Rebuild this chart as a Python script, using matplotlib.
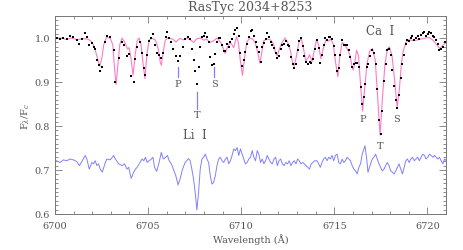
import matplotlib
matplotlib.use('Agg')
import matplotlib.pyplot as plt
from matplotlib.ticker import MultipleLocator

plt.rcParams['font.family'] = 'DejaVu Serif'
plt.rcParams['mathtext.fontset'] = 'dejavuserif'

# synthetic (model) spectrum
model_wave = [6700.0, 6700.3, 6700.6, 6700.9, 6701.2, 6701.5, 6701.8, 6702.0, 6702.15, 6702.3,
              6702.41, 6702.52, 6702.62, 6702.75, 6702.95, 6703.1, 6703.2, 6703.28, 6703.36, 6703.48,
              6703.6, 6703.75, 6703.9, 6703.98, 6704.08, 6704.19, 6704.3, 6704.42, 6704.52, 6704.62,
              6704.72, 6704.83, 6704.93, 6705.05, 6705.2, 6705.4, 6705.55, 6705.65, 6705.71, 6705.8,
              6705.92, 6706.05, 6706.3, 6706.5, 6706.7, 6706.9, 6707.05, 6707.3, 6707.45, 6707.6,
              6707.8, 6708.0, 6708.15, 6708.3, 6708.5, 6708.7, 6708.9, 6709.05, 6709.14, 6709.25,
              6709.4, 6709.5, 6709.6, 6709.75, 6709.85, 6709.95, 6710.07, 6710.18, 6710.3, 6710.45,
              6710.6, 6710.75, 6710.9, 6711.0, 6711.1, 6711.2, 6711.4, 6711.6, 6711.75, 6711.85,
              6711.94, 6712.05, 6712.2, 6712.35, 6712.5, 6712.65, 6712.75, 6712.84, 6712.95, 6713.1,
              6713.22, 6713.35, 6713.47, 6713.6, 6713.68, 6713.8, 6713.92, 6714.05, 6714.15, 6714.28,
              6714.4, 6714.55, 6714.7, 6714.82, 6714.95, 6715.05, 6715.19, 6715.3, 6715.42, 6715.55,
              6715.7, 6715.85, 6715.95, 6716.02, 6716.1, 6716.2, 6716.3, 6716.4, 6716.52, 6716.62,
              6716.75, 6716.9, 6717.05, 6717.2, 6717.32, 6717.46, 6717.58, 6717.72, 6717.85, 6717.96,
              6718.1, 6718.25, 6718.38, 6718.5, 6718.6, 6718.7, 6718.85, 6719.0, 6719.3, 6719.6,
              6719.9, 6720.1, 6720.3, 6720.5, 6720.66, 6720.8, 6721.0]
model_flux = [0.998, 1.0, 0.997, 1.0, 0.996, 0.999, 0.997, 0.99, 0.975, 0.95,
              0.936, 0.955, 0.985, 1.0, 1.001, 0.985, 0.93, 0.894, 0.93, 0.985,
              1.0, 0.99, 0.975, 0.978, 0.955, 0.915, 0.96, 0.995, 1.0, 0.985,
              0.945, 0.908, 0.96, 0.995, 1.0, 0.995, 0.975, 0.945, 0.938, 0.965,
              0.995, 1.0, 0.998, 0.991, 0.999, 0.996, 1.0, 0.995, 0.99, 0.998,
              1.0, 0.995, 0.998, 0.99, 0.993, 1.0, 0.99, 0.975, 0.965, 0.978,
              0.99, 0.985, 0.978, 1.003, 0.99, 0.95, 0.915, 0.955, 0.99, 1.0,
              0.998, 0.99, 0.965, 0.943, 0.965, 0.993, 0.998, 0.995, 0.985, 0.965,
              0.96, 0.975, 0.99, 1.0, 0.99, 0.97, 0.945, 0.936, 0.955, 0.99,
              1.0, 0.975, 0.948, 0.955, 0.962, 0.946, 0.97, 0.997, 0.985, 0.953,
              0.975, 0.995, 0.993, 0.998, 0.985, 0.95, 0.912, 0.96, 0.99, 0.985,
              0.975, 0.96, 0.935, 0.927, 0.945, 0.972, 0.96, 0.9, 0.834, 0.88,
              0.94, 0.97, 0.976, 0.95, 0.87, 0.779, 0.86, 0.94, 0.975, 0.98,
              0.96, 0.9, 0.843, 0.885, 0.94, 0.97, 0.99, 0.996, 0.994, 0.997,
              1.0, 1.001, 0.995, 0.985, 0.976, 0.982, 0.99]

# observed spectrum sampling
obs_wave = [6699.91, 6700.09, 6700.27, 6700.45, 6700.63, 6700.81, 6700.99, 6701.17, 6701.31, 6701.44,
            6701.62, 6701.71, 6701.84, 6701.98, 6702.07, 6702.16, 6702.25, 6702.34, 6702.43, 6702.54,
            6702.70, 6702.79, 6702.97, 6703.15, 6703.24, 6703.42, 6703.60, 6703.73, 6703.87, 6703.96,
            6704.09, 6704.23, 6704.32, 6704.41, 6704.56, 6704.68, 6704.77, 6704.86, 6704.95, 6705.04,
            6705.13, 6705.26, 6705.35, 6705.46, 6705.59, 6705.71, 6705.82, 6705.95, 6706.04, 6706.13,
            6706.25, 6706.36, 6706.49, 6706.61, 6706.72, 6706.85, 6706.99,
            6707.17, 6707.26, 6707.35, 6707.44, 6707.53, 6707.62, 6707.71, 6707.80, 6707.89, 6707.98,
            6708.07, 6708.16, 6708.25, 6708.34, 6708.43, 6708.52, 6708.61, 6708.70, 6708.79, 6708.88,
            6708.97, 6709.06, 6709.15, 6709.24, 6709.33, 6709.42, 6709.51, 6709.60, 6709.69, 6709.78,
            6709.87, 6709.96, 6710.05, 6710.14, 6710.23, 6710.32, 6710.41, 6710.50, 6710.59, 6710.68,
            6710.77, 6710.86, 6710.95, 6711.04, 6711.13, 6711.22, 6711.31, 6711.40, 6711.49, 6711.58,
            6711.67, 6711.76, 6711.85, 6711.94, 6712.03, 6712.12, 6712.21, 6712.30, 6712.40, 6712.49,
            6712.58, 6712.67, 6712.76, 6712.85, 6712.94, 6713.03, 6713.12, 6713.21, 6713.30, 6713.39,
            6713.48, 6713.58, 6713.67, 6713.76, 6713.85, 6713.94,
            6714.07, 6714.16, 6714.25, 6714.34, 6714.43, 6714.52, 6714.61, 6714.70, 6714.79, 6714.88,
            6714.97, 6715.06, 6715.15, 6715.24, 6715.33, 6715.42, 6715.51, 6715.60, 6715.69, 6715.78,
            6715.87, 6715.96, 6716.05, 6716.14, 6716.23, 6716.32, 6716.41, 6716.50, 6716.59, 6716.65,
            6716.74, 6716.81, 6716.92, 6717.04, 6717.13, 6717.22, 6717.31, 6717.40, 6717.49, 6717.58,
            6717.67, 6717.76, 6717.85, 6717.94, 6718.03, 6718.12, 6718.21, 6718.30, 6718.39, 6718.48,
            6718.57, 6718.66, 6718.75, 6718.84, 6718.93, 6719.02, 6719.11, 6719.20, 6719.30, 6719.39,
            6719.48, 6719.57, 6719.66, 6719.75, 6719.84, 6719.93, 6720.02, 6720.11, 6720.20, 6720.29,
            6720.38, 6720.47, 6720.56, 6720.65, 6720.74, 6720.83, 6720.92, 6721.01]

# observed normalized flux (black dots)
obs_flux = [0.995, 1.000, 0.997, 1.001, 0.998, 1.004, 1.002, 0.995, 0.987, 0.997,
            1.011, 1.002, 0.985, 0.988, 0.979, 0.975, 0.950, 0.938, 0.925, 0.935,
            0.992, 1.005, 1.003, 0.973, 0.900, 0.954, 0.990, 0.984, 0.960, 0.963,
            0.913, 0.900, 0.952, 0.980, 0.992, 0.965, 0.931, 0.915, 0.962, 0.994,
            1.001, 1.008, 0.983, 0.967, 0.962, 0.955, 0.965, 1.002, 1.013, 1.000,
            0.991, 0.976, 0.958, 0.948, 0.959, 0.979, 0.997,
            1.003, 0.997, 0.975, 0.950, 0.925, 0.896, 0.935, 0.980, 1.003, 1.004,
            1.012, 1.003, 0.990, 0.957, 0.939, 0.942, 0.963, 0.990, 1.000, 1.000,
            0.984, 0.971, 0.971, 0.986, 0.979, 0.991, 0.997, 1.008, 1.019, 1.022,
            1.005, 0.965, 0.936, 0.950, 0.969, 0.987, 1.003, 1.015, 1.018, 1.004,
            0.991, 0.980, 0.968, 0.945, 0.980, 0.988, 0.997, 1.011, 1.002, 0.992,
            0.985, 0.978, 0.965, 0.955, 0.960, 0.975, 0.984, 0.987, 0.994, 0.984,
            0.981, 0.956, 0.941, 0.932, 0.940, 0.972, 0.993, 1.000, 0.982, 0.960,
            0.945, 0.940, 0.945, 0.944, 0.952, 0.976,
            0.996, 0.977, 0.944, 0.962, 0.983, 1.001, 0.995, 1.002, 1.002, 0.998,
            0.981, 0.961, 0.925, 0.932, 0.962, 0.995, 0.984, 0.983, 0.985, 0.972,
            0.956, 0.935, 0.940, 0.944, 0.944, 0.935, 0.889, 0.850, 0.865, 0.895,
            0.935, 0.940, 0.960, 0.972, 0.965, 0.940, 0.885, 0.814, 0.781, 0.835,
            0.902, 0.940, 0.972, 0.975, 0.962, 0.928, 0.891, 0.858, 0.840, 0.870,
            0.910, 0.940, 0.961, 0.986, 0.995, 0.993, 1.000, 1.004, 0.995, 1.000,
            1.005, 0.998, 1.007, 1.012, 1.013, 1.005, 1.009, 1.013, 1.011, 1.004,
            1.003, 0.995, 0.986, 0.972, 0.975, 0.980, 0.990, 0.990]

# difference spectrum, shifted down (blue)
diff_flux = [0.716, 0.721, 0.717, 0.723, 0.721, 0.725, 0.723, 0.719, 0.710, 0.719,
             0.733, 0.725, 0.702, 0.717, 0.714, 0.721, 0.710, 0.714, 0.702, 0.695,
             0.717, 0.725, 0.723, 0.733, 0.725, 0.714, 0.710, 0.714, 0.702, 0.706,
             0.681, 0.695, 0.702, 0.706, 0.717, 0.725, 0.721, 0.729, 0.717, 0.721,
             0.723, 0.729, 0.706, 0.697, 0.717, 0.740, 0.725, 0.729, 0.733, 0.721,
             0.714, 0.702, 0.687, 0.666, 0.680, 0.702, 0.717,
             0.726, 0.721, 0.702, 0.680, 0.649, 0.609, 0.649, 0.702, 0.725, 0.729,
             0.736, 0.725, 0.717, 0.687, 0.668, 0.672, 0.687, 0.710, 0.725, 0.729,
             0.721, 0.717, 0.725, 0.729, 0.714, 0.721, 0.733, 0.748, 0.744, 0.751,
             0.733, 0.748, 0.736, 0.725, 0.714, 0.717, 0.725, 0.729, 0.744, 0.729,
             0.721, 0.744, 0.736, 0.717, 0.725, 0.714, 0.721, 0.733, 0.725, 0.717,
             0.714, 0.725, 0.729, 0.710, 0.721, 0.725, 0.714, 0.710, 0.717, 0.714,
             0.721, 0.710, 0.717, 0.721, 0.714, 0.725, 0.721, 0.714, 0.717, 0.714,
             0.710, 0.706, 0.702, 0.714, 0.717, 0.721,
             0.721, 0.714, 0.706, 0.717, 0.725, 0.729, 0.721, 0.729, 0.725, 0.733,
             0.721, 0.733, 0.736, 0.717, 0.714, 0.725, 0.717, 0.721, 0.729, 0.725,
             0.721, 0.710, 0.702, 0.698, 0.691, 0.706, 0.714, 0.736, 0.748, 0.755,
             0.725, 0.695, 0.710, 0.725, 0.729, 0.736, 0.725, 0.714, 0.706, 0.698,
             0.702, 0.710, 0.717, 0.710, 0.698, 0.695, 0.691, 0.698, 0.706, 0.714,
             0.702, 0.691, 0.706, 0.721, 0.725, 0.717, 0.725, 0.729, 0.721, 0.725,
             0.729, 0.721, 0.729, 0.736, 0.733, 0.725, 0.729, 0.736, 0.733, 0.729,
             0.733, 0.729, 0.725, 0.729, 0.721, 0.714, 0.725, 0.721]

# Li I and Ca I component labels
li_labels = ['P', 'T', 'S']
li_wave = [6706.6, 6707.65, 6708.55]
ca_wave = [6716.55, 6717.45, 6718.35]

gray = '#555555'
pink = '#ff7ac8'
blue = '#8080ff'

fig = plt.figure(figsize=(4.63, 2.51), dpi=100)
ax = fig.add_axes([55 / 463, 1 - 215 / 251, 391 / 463, 198 / 251])

ax.plot(model_wave, model_flux, color=pink, lw=0.8)
ax.plot(obs_wave, obs_flux, 's', color='black', ms=1.8, mew=0)
ax.plot(obs_wave, diff_flux, color=blue, lw=0.7)

# Li I component marks
for lab, w in zip(li_labels, li_wave):
    if lab == 'T':
        ax.plot([w, w], [0.838, 0.878], color=blue, lw=0.9)
        ax.text(w, 0.825, lab, ha='center', va='center', fontsize=7, color=gray)
    else:
        ax.plot([w, w], [0.911, 0.934], color=blue, lw=0.9)
        ax.text(w, 0.896, lab, ha='center', va='center', fontsize=7, color=gray)

for lab, w in zip(li_labels, ca_wave):
    y = 0.755 if lab == 'T' else 0.816
    ax.text(w, y, lab, ha='center', va='center', fontsize=7, color=gray)

ax.text(6717.45, 1.017, 'Ca  I', ha='center', va='center', fontsize=8.5, color=gray)
ax.text(6707.5, 0.78, 'Li  I', ha='center', va='center', fontsize=8.5, color=gray)

ax.set_xlim(6700, 6721)
ax.set_ylim(0.6, 1.05)
ax.xaxis.set_major_locator(MultipleLocator(5))
ax.xaxis.set_minor_locator(MultipleLocator(1))
ax.yaxis.set_major_locator(MultipleLocator(0.1))
ax.yaxis.set_minor_locator(MultipleLocator(0.01))
ax.tick_params(which='both', direction='in', top=True, right=True, colors='#777777',
               labelcolor=gray, labelsize=7, width=0.6)
ax.tick_params(which='major', length=5)
ax.tick_params(which='minor', length=2.5)
ax.tick_params(axis='x', pad=5)
for s in ax.spines.values():
    s.set_color('#777777')
    s.set_linewidth(0.7)

ax.set_title('RasTyc 2034+8253', fontsize=9, color=gray, pad=4)
ax.set_xlabel('Wavelength (Å)', fontsize=7, color=gray, labelpad=2)
ax.set_ylabel(r'F$_\lambda$/F$_c$', fontsize=7, color=gray)
ax.yaxis.set_label_coords(-0.06, 0.5)

fig.savefig('out.png', dpi=100)
